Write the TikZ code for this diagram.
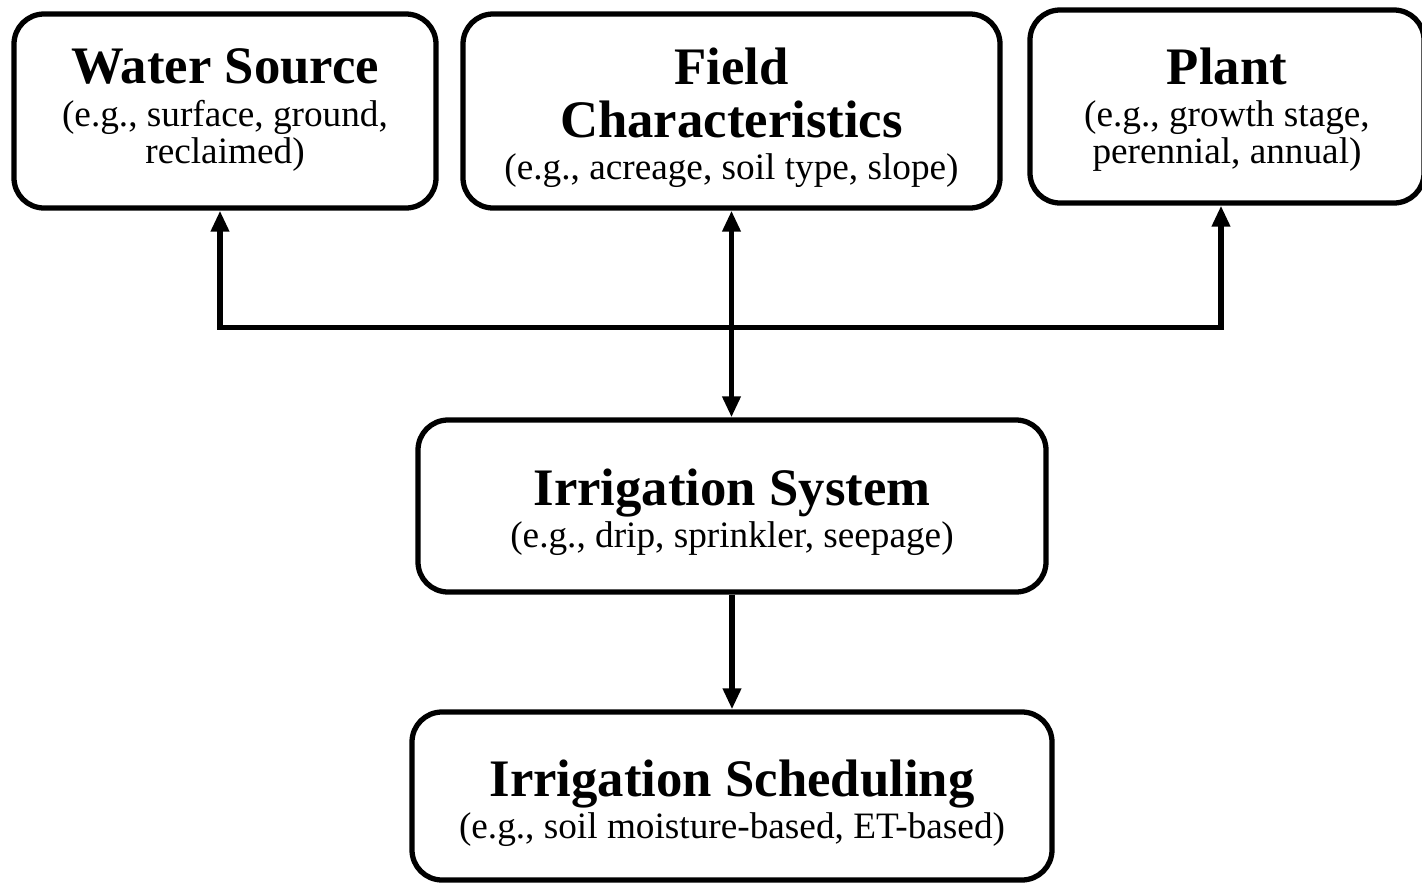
\documentclass[tikz,border=0pt]{standalone}
\usepackage{fontspec}
\setmainfont{Liberation Serif}
\usetikzlibrary{arrows.meta,positioning,calc}

\newcommand{\subfont}{\fontsize{10.6}{10.5}\selectfont\lineskiplimit=-100pt\relax}
\newcommand{\ttl}[1]{{\fontsize{15}{10.5}\selectfont\bfseries #1}}
\tikzset{
  factor/.style={draw,line width=1.5pt,rounded corners=0.3cm},
  factortext/.style={align=center,inner sep=0pt,font=\subfont},
  link/.style={line width=1.5pt,-{Triangle[length=6pt,width=5pt]}},
  twolink/.style={line width=1.5pt,{Triangle[length=6pt,width=5pt]}-{Triangle[length=6pt,width=5pt]}},
}

\begin{document}
\begin{tikzpicture}
\useasboundingbox (0,0) rectangle (14.22,-8.83);
% top row
\node[factor,minimum width=4.22cm,minimum height=1.94cm] (water) at (2.25,-1.11) {};
\node[factortext,name=water-t] at ([yshift=0.01cm]water.center)
  {\ttl{Water Source}\\[1.5pt](e.g., surface, ground,\\reclaimed)};
\node[factor,minimum width=5.37cm,minimum height=1.94cm] (field) at (7.315,-1.11) {};
\node[factortext,name=field-t] at ([yshift=-0.07cm]field.center)
  {\ttl{Field}\\[4.5pt]\ttl{Characteristics}\\[1.5pt](e.g., acreage, soil type, slope)};
\node[factor,minimum width=3.94cm,minimum height=1.93cm] (plant) at (12.27,-1.065) {};
\node[factortext,name=plant-t] at ([yshift=-0.035cm]plant.center)
  {\ttl{Plant}\\[1.5pt](e.g., growth stage,\\perennial, annual)};
% middle and bottom
\node[factor,minimum width=6.28cm,minimum height=1.72cm] (irrsys) at (7.32,-5.06) {};
\node[factortext,name=irrsys-t] at ([yshift=-0.065cm]irrsys.center)
  {\ttl{Irrigation System}\\[1.5pt](e.g., drip, sprinkler, seepage)};
\node[factor,minimum width=6.4cm,minimum height=1.68cm] (sched) at (7.32,-7.96) {};
\node[factortext,name=sched-t] at ([yshift=-0.075cm]sched.center)
  {\ttl{Irrigation Scheduling}\\[1.5pt](e.g., soil moisture-based, ET-based)};

\draw[twolink] ([xshift=-0.05cm]water.south) -- ++(0,-1.17) coordinate(bus) -| ([xshift=-0.06cm]plant.south);
\draw[twolink] (field.south) -- (field.south |- irrsys.north);
\draw[link] (irrsys.south) -- (sched.north);
\end{tikzpicture}
\end{document}
